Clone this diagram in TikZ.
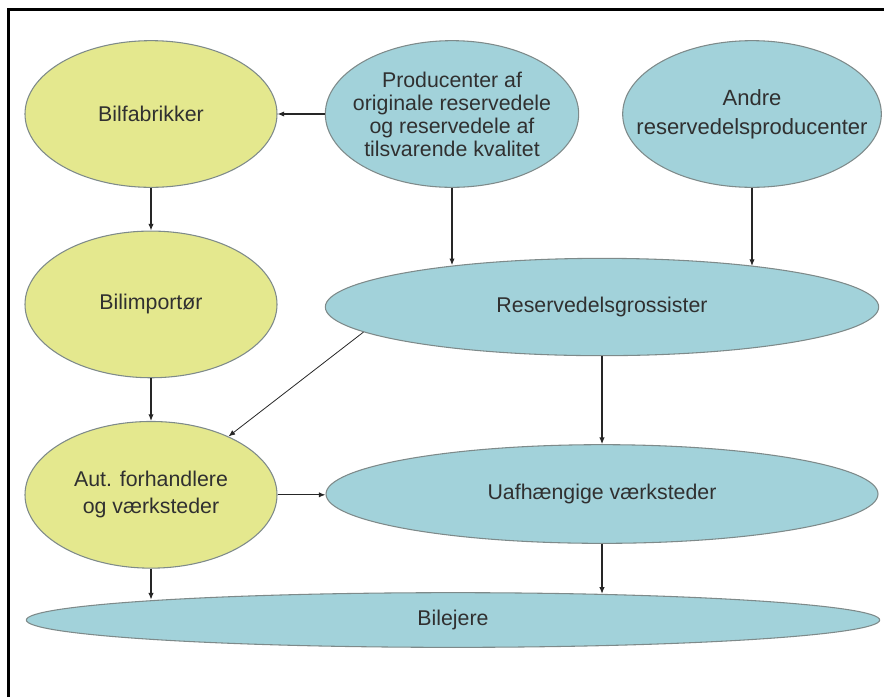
\documentclass[tikz,border=0pt]{standalone}
\usepackage{xcolor}
\usepackage{fontspec}
\setmainfont{Liberation Sans}
\usetikzlibrary{arrows.meta,positioning,shapes.geometric}
\definecolor{gulfelt}{HTML}{E4E88E}
\definecolor{blaafelt}{HTML}{A2D2DA}
\definecolor{kantgraa}{HTML}{7E8A8A}
\definecolor{tekstgraa}{HTML}{303030}

\begin{document}
\begin{tikzpicture}[x=0.75pt,y=-0.75pt,
  node distance=32pt,
  led/.style={ellipse,draw=kantgraa,line width=0.8pt,inner sep=-20pt,align=center,text=tekstgraa,font=\fontsize{16}{17.3}\selectfont},
  gul/.style={led,fill=gulfelt,minimum width=189pt,minimum height=110pt},
  blaa/.style={led,fill=blaafelt},
  arrow/.style={-{Latex[length=5pt,width=4pt]},line width=0.8pt,draw=black!85}
]
  \useasboundingbox (0,0) rectangle (884,697);
  \draw[line width=1.9pt] (8.5,697) |- (884,9.5);

  \node[gul] (bilfab) at (151,114) {Bilfabrikker};
  \node[gul,below=of bilfab] (bilimp) {Bilimportør};
  \node[gul,below=of bilimp,font=\fontsize{16}{20}\selectfont] (aut) {Aut. forhandlere\\og værksteder};
  \node[blaa,minimum width=190pt,minimum height=110pt] (prod) at (452,114) {Producenter af\\originale reservedele\\og reservedele af\\tilsvarende kvalitet};
  \node[blaa,minimum width=194pt,minimum height=110pt,font=\fontsize{16.5}{21.8}\selectfont] (andre) at (752,114) {Andre\\reservedelsproducenter};
  \node[blaa,minimum width=415pt,minimum height=73pt] (gross) at (602,307) {Reservedelsgrossister};
  \node[blaa,minimum width=414pt,minimum height=74pt] (uafh) at (602,494) {Uafhængige værksteder};
  \node[blaa,minimum width=640pt,minimum height=41pt] (ejere) at (453,620) {Bilejere};

  \draw[arrow] (prod.west)--(bilfab.east);
  \draw[arrow] (bilfab)--(bilimp);
  \draw[arrow] (bilimp)--(aut);
  \draw[arrow] (prod.south)--(prod.south |- gross.164.8);
  \draw[arrow] (andre.south)--(andre.south |- gross.15.2);
  \draw[arrow,line width=0.6pt] (gross.186.3)--(aut.37);
  \draw[arrow] (gross.south)--(uafh.north);
  \draw[arrow] (aut.east)--(aut.east -| uafh.west);
  \draw[arrow] (aut.south)--(aut.south |- ejere.176.3);
  \draw[arrow] (uafh.south)--(uafh.south |- ejere.10);
\end{tikzpicture}
\end{document}
